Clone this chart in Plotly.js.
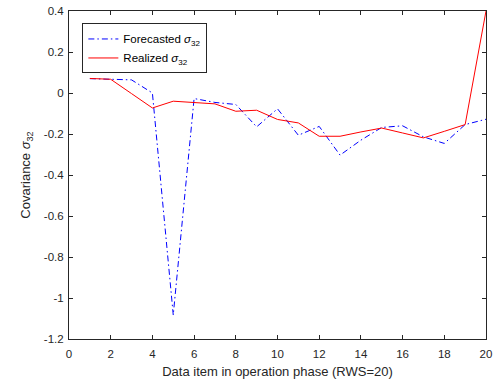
<!DOCTYPE html>
<html>
<head>
<meta charset="utf-8">
<script src="https://cdn.plot.ly/plotly-3.0.1.min.js"></script>
<style>
  html, body { margin: 0; padding: 0; background: #fff; }
  #chart { width: 494px; height: 384px; }
</style>
</head>
<body>
<div id="chart"></div>
<script>
// Data items in the operation phase
const items = [1, 2, 3, 4, 5, 6, 7, 8, 9, 10, 11, 12, 13, 14, 15, 16, 17, 18, 19, 20];

// Forecasted covariance sigma_32
const forecasted = [0.070, 0.067, 0.064, 0.000, -1.083, -0.027, -0.046, -0.056, -0.165, -0.077,
                    -0.206, -0.163, -0.303, -0.230, -0.168, -0.160, -0.214, -0.246, -0.154, -0.128];

// Realized covariance sigma_32
const realized = [0.071, 0.067, -0.003, -0.073, -0.040, -0.045, -0.053, -0.089, -0.084, -0.129,
                  -0.146, -0.211, -0.211, -0.190, -0.171, -0.195, -0.219, -0.187, -0.154, 0.400];

const yTickVals = [0.4, 0.2, 0, -0.2, -0.4, -0.6, -0.8, -1, -1.2];
const yTickText = ['0.4', '0.2', '0', '-0.2', '-0.4', '-0.6', '-0.8', '-1', '-1.2'];
const xTickVals = [0, 2, 4, 6, 8, 10, 12, 14, 16, 18, 20];

const axisColor = '#262626';
const family = 'Liberation Sans, Arial, sans-serif';
const tickFont = { family: family, size: 11.5, color: axisColor };
const titleFont = { family: family, size: 13, color: axisColor };

const traces = [
  {
    x: items, y: forecasted, type: 'scatter', mode: 'lines',
    name: 'Forecasted <i>σ</i><sub>32</sub>',
    line: { color: '#0000FF', width: 1, dash: '6px,3px,1.5px,3px' }
  },
  {
    x: items, y: realized, type: 'scatter', mode: 'lines',
    name: 'Realized <i>σ</i><sub>32</sub>',
    line: { color: '#FF0000', width: 1 }
  }
];

const axisCommon = {
  showline: true, mirror: 'ticks', linecolor: axisColor, linewidth: 1,
  ticks: 'inside', ticklen: 4, tickwidth: 1, tickcolor: axisColor,
  showgrid: false, zeroline: false, tickfont: tickFont
};

const layout = {
  width: 494, height: 384,
  margin: { l: 69, r: 8, t: 11, b: 45 },
  paper_bgcolor: '#fff', plot_bgcolor: '#fff',
  font: tickFont,
  showlegend: true,
  legend: {
    x: 0.032, y: 0.962, xanchor: 'left', yanchor: 'top',
    bgcolor: '#fff', bordercolor: axisColor, borderwidth: 1,
    font: { family: family, size: 11.5, color: '#000' },
    tracegroupgap: 0
  },
  xaxis: Object.assign({}, axisCommon, {
    range: [0, 20], tickvals: xTickVals, ticklabelstandoff: 4,
    title: { text: 'Data item in operation phase (RWS=20)', font: titleFont, standoff: 8 }
  }),
  yaxis: Object.assign({}, axisCommon, {
    range: [-1.2, 0.4], tickvals: yTickVals, ticktext: yTickText, ticklabelstandoff: 2,
    title: { text: 'Covariance <i>σ</i><sub>32</sub>', font: titleFont, standoff: 10 }
  })
};

Plotly.newPlot('chart', traces, layout, { displayModeBar: false, staticPlot: true });
</script>
</body>
</html>
